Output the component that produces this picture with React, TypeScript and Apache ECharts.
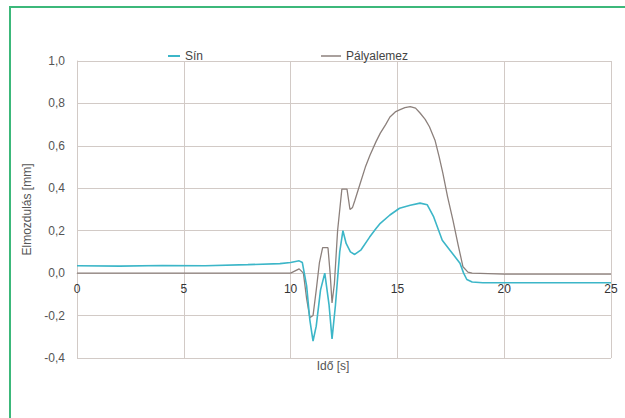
import React, { useEffect, useRef } from "react";
import * as echarts from "echarts";

const xTicks = [0, 5, 10, 15, 20, 25];
const yTicks = [-0.4, -0.2, 0, 0.2, 0.4, 0.6, 0.8, 1.0];

const sinTime = [0, 2, 4, 6, 8, 9.5, 10, 10.4, 10.55, 10.75, 10.9, 11.05, 11.2, 11.4, 11.6, 11.8, 11.94, 12.1, 12.3, 12.45, 12.6, 12.8, 13.0, 13.3, 13.7, 14.0, 14.2, 14.65, 15.1, 15.6, 16.06, 16.4, 16.7, 17.1, 17.46, 17.93, 18.1, 18.25, 18.5, 19, 20, 22, 25];
const sinValue = [0.035, 0.033, 0.036, 0.035, 0.04, 0.045, 0.05, 0.058, 0.05, -0.06, -0.22, -0.32, -0.25, -0.08, 0.0, -0.15, -0.31, -0.15, 0.1, 0.2, 0.14, 0.1, 0.088, 0.11, 0.17, 0.21, 0.235, 0.274, 0.306, 0.32, 0.33, 0.322, 0.265, 0.155, 0.108, 0.047, 0.0, -0.03, -0.042, -0.045, -0.045, -0.045, -0.045];

const palyaTime = [0, 5, 10, 10.4, 10.6, 10.75, 10.9, 11.05, 11.2, 11.35, 11.5, 11.75, 11.85, 11.94, 12.05, 12.2, 12.4, 12.64, 12.78, 12.9, 13.0, 13.25, 13.5, 13.72, 14.0, 14.2, 14.45, 14.65, 14.9, 15.1, 15.35, 15.6, 15.85, 16.06, 16.3, 16.5, 16.76, 16.95, 17.13, 17.35, 17.6, 17.85, 18.07, 18.3, 18.5, 20, 25];
const palyaValue = [0.0, 0.0, 0.0, 0.02, 0.0, -0.12, -0.21, -0.2, -0.08, 0.05, 0.12, 0.12, 0.0, -0.14, -0.05, 0.2, 0.396, 0.396, 0.3, 0.31, 0.34, 0.42, 0.5, 0.557, 0.62, 0.66, 0.7, 0.736, 0.76, 0.77, 0.78, 0.785, 0.778, 0.755, 0.725, 0.69, 0.627, 0.55, 0.47, 0.36, 0.25, 0.13, 0.03, 0.005, 0.0, -0.005, -0.005];

const FONT = "'Liberation Sans', Arial, sans-serif";

export default function App() {
  const ref = useRef<HTMLDivElement>(null);
  useEffect(() => {
    document.body.style.margin = "0";
    if (!ref.current) return;
    const chart = echarts.init(ref.current, undefined, { renderer: "svg" });
    const gridColor = "#d2cac6";
    chart.setOption({
      animation: false,
      backgroundColor: "#ffffff",
      textStyle: { fontFamily: FONT },
      legend: [
        {
          data: ["Sín"], left: 163, top: 45, icon: "rect", itemWidth: 12, itemHeight: 2,
          textStyle: { color: "#444", fontSize: 12, fontFamily: FONT },
        },
        {
          data: ["Pályalemez"], left: 316, top: 45, icon: "rect", itemWidth: 20, itemHeight: 1.5,
          textStyle: { color: "#444", fontSize: 12, fontFamily: FONT },
        },
      ],
      grid: { left: 77, right: 14, top: 61, bottom: 60, containLabel: false },
      xAxis: {
        type: "value",
        min: xTicks[0],
        max: xTicks[xTicks.length - 1],
        interval: 5,
        position: "bottom",
        offset: -85,
        axisLine: { onZero: false, lineStyle: { color: gridColor, width: 1 } },
        axisTick: { show: false },
        axisLabel: { color: "#333", fontSize: 12, margin: 10, fontFamily: FONT },
        splitLine: { show: true, lineStyle: { color: gridColor, width: 1 } },
      },
      yAxis: {
        type: "value",
        min: yTicks[0],
        max: yTicks[yTicks.length - 1],
        interval: 0.2,
        name: "Elmozdulás [mm]",
        nameLocation: "middle",
        nameGap: 44,
        nameTextStyle: { color: "#555", fontSize: 12, fontFamily: FONT },
        axisLine: { show: true, onZero: false, lineStyle: { color: gridColor } },
        axisTick: { show: false },
        axisLabel: {
          color: "#555", fontSize: 12, margin: 12, fontFamily: FONT,
          formatter: (v: number) => v.toFixed(1).replace(".", ","),
        },
        splitLine: { show: true, lineStyle: { color: gridColor, width: 1 } },
      },
      graphic: [
        { type: "line", shape: { x1: 10, y1: 7, x2: 625, y2: 7 }, style: { stroke: "#3cb87a", lineWidth: 2 } },
        { type: "line", shape: { x1: 10, y1: 6, x2: 10, y2: 418 }, style: { stroke: "#3cb87a", lineWidth: 2 } },
        { type: "line", shape: { x1: 77, y1: 358.5, x2: 611, y2: 358.5 }, style: { stroke: gridColor, lineWidth: 1 } },
        {
          type: "text", x: 333, y: 366,
          style: { text: "Idő [s]", fill: "#555", fontSize: 12, fontFamily: FONT, align: "center", verticalAlign: "middle" },
        },
      ],
      series: [
        {
          name: "Pályalemez",
          type: "line",
          symbol: "none",
          data: palyaTime.map((t, i) => [t, palyaValue[i]]),
          lineStyle: { color: "#8c807c", width: 1.3 },
          itemStyle: { color: "#8c807c" },
          z: 2,
        },
        {
          name: "Sín",
          type: "line",
          symbol: "none",
          data: sinTime.map((t, i) => [t, sinValue[i]]),
          lineStyle: { color: "#3cb6c8", width: 1.6 },
          itemStyle: { color: "#3cb6c8" },
          z: 3,
        },
      ],
    });
    return () => chart.dispose();
  }, []);
  return <div ref={ref} style={{ width: 625, height: 418 }} />;
}
